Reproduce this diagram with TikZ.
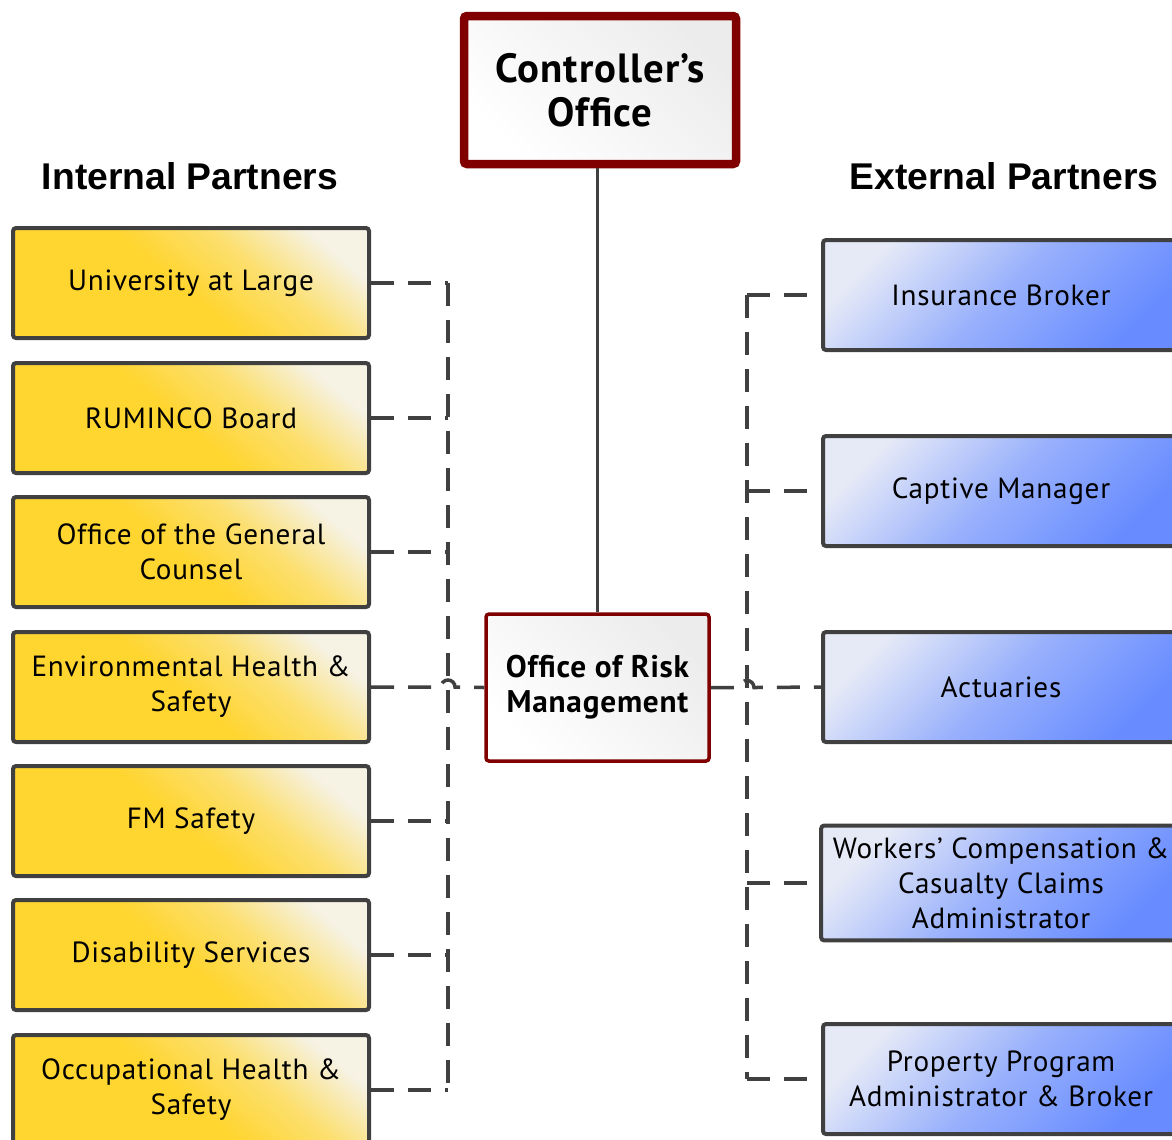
\documentclass[tikz,border=0pt]{standalone}
\usepackage{fontspec}
\setmainfont[LetterSpace=2.5]{PT Sans}
\newfontfamily\headfont{Liberation Sans}
\usetikzlibrary{calc}
\definecolor{box_line}{RGB}{64, 64, 64}
\definecolor{box_red}{RGB}{128, 0, 0}
\definecolor{yl_dark}{RGB}{255, 213, 48}
\definecolor{yl_light}{RGB}{246, 242, 228}
\definecolor{bl_dark}{RGB}{104, 140, 255}
\definecolor{bl_light}{RGB}{230, 234, 247}
\definecolor{wh_light}{RGB}{236, 236, 236}
\pgfdeclareverticalshading{ylshade}{100bp}{color(0bp)=(yl_dark); color(48bp)=(yl_dark);
  color(62bp)=(yl_dark!65!yl_light); color(76bp)=(yl_light); color(100bp)=(yl_light)}
\tikzstyle{yn}=[rectangle,rounded corners=0.03cm,draw=box_line,line width=0.04cm,
  shading=ylshade,shading angle=-40,
  minimum width=3.56cm,minimum height=1.10cm,align=center,font=\fontsize{8.3}{10}\selectfont]
\tikzstyle{bn}=[rectangle,rounded corners=0.03cm,draw=box_line,line width=0.04cm,
  top color=bl_light,bottom color=bl_dark,middle color=bl_dark!62!bl_light,shading angle=45,
  minimum width=3.56cm,minimum height=1.10cm,align=center,font=\fontsize{8.3}{10}\selectfont]
\tikzstyle{on}=[rectangle,rounded corners=0.03cm,draw=box_red,
  top color=wh_light,bottom color=white,shading angle=-45,align=center]
\tikzstyle{hd}=[font=\headfont\bfseries\fontsize{10.6}{12}\selectfont]
\tikzstyle{dl}=[draw=box_line,line width=0.035cm,dash pattern=on 0.23cm off 0.14cm]
\tikzstyle{none}=[]

\begin{document}
\begin{tikzpicture}
            \useasboundingbox (0, 0) rectangle (11.72, -11.39);
            \node [style=on, line width=0.085cm, minimum width=2.72cm, minimum height=1.48cm,
              font=\fontsize{11.6}{12.4}\selectfont\bfseries] (0) at (6.00, -0.90) {Controller’s\\Office};
            \node [style=on, line width=0.035cm, minimum width=2.23cm, minimum height=1.47cm,
              font=\fontsize{8.9}{10}\selectfont\bfseries] (1) at (5.975, -6.875) {Office of Risk\\Management};
            \node [style=hd] (14) at (1.90, -1.76) {Internal Partners};
            \node [style=hd] (15) at (10.04, -1.76) {External Partners};
            \node [style=yn] (2) at (1.91, -2.83) {University at Large};
            \node [style=yn] (3) at (1.91, -4.18) {RUMINCO Board};
            \node [style=yn] (4) at (1.91, -5.52) {Office of the General\\Counsel};
            \node [style=yn] (5) at (1.91, -6.87) {Environmental Health \&\\Safety};
            \node [style=yn] (6) at (1.91, -8.21) {FM Safety};
            \node [style=yn] (7) at (1.91, -9.55) {Disability Services};
            \node [style=yn] (8) at (1.91, -10.90) {Occupational Health \&\\Safety};
            \node [style=bn] (9) at (10.01, -2.95) {Insurance Broker};
            \node [style=bn] (10) at (10.01, -4.91) {Captive Manager};
            \node [style=bn] (11) at (10.01, -6.87) {Actuaries};
            \node [style=bn] (12) at (10.01, -8.83) {Workers’ Compensation \&\\Casualty Claims\\Administrator};
            \node [style=bn] (13) at (10.01, -10.79) {Property Program\\Administrator \& Broker};
            \coordinate (16) at (4.48, -2.83);
            \coordinate (17) at (4.48, -10.90);
            \coordinate (18) at (7.47, -2.95);
            \coordinate (19) at (7.47, -10.79);
            \draw [draw=box_line, line width=0.03cm] (1.north) to (1.north |- 0.south);
            \draw [style=dl] (16) to (17);
            \draw [style=dl] (18) to (19);
            \draw [style=dl] (2.east) to (2.east -| 16);
            \draw [style=dl] (3.east) to (3.east -| 16);
            \draw [style=dl] (4.east) to (4.east -| 16);
            \draw [style=dl] (6.east) to (6.east -| 16);
            \draw [style=dl] (7.east) to (7.east -| 16);
            \draw [style=dl] (8.east) to (8.east -| 16);
            \draw [style=dl] (5.east) -- ($(5.east -| 16)+(-0.07, 0)$)
              arc [start angle=180, end angle=0, radius=0.07] -- (1.west);
            \draw [style=dl] (1.east) -- ($(1.east -| 18)+(-0.07, 0)$)
              arc [start angle=180, end angle=0, radius=0.07] -- (11.west);
            \draw [style=dl, shorten >=0.02cm] (9.west -| 18) to (9.west);
            \draw [style=dl, shorten >=0.02cm] (10.west -| 18) to (10.west);
            \draw [style=dl, shorten >=0.02cm] (12.west -| 18) to (12.west);
            \draw [style=dl, shorten >=0.02cm] (13.west -| 18) to (13.west);
    \end{tikzpicture}
\end{document}
